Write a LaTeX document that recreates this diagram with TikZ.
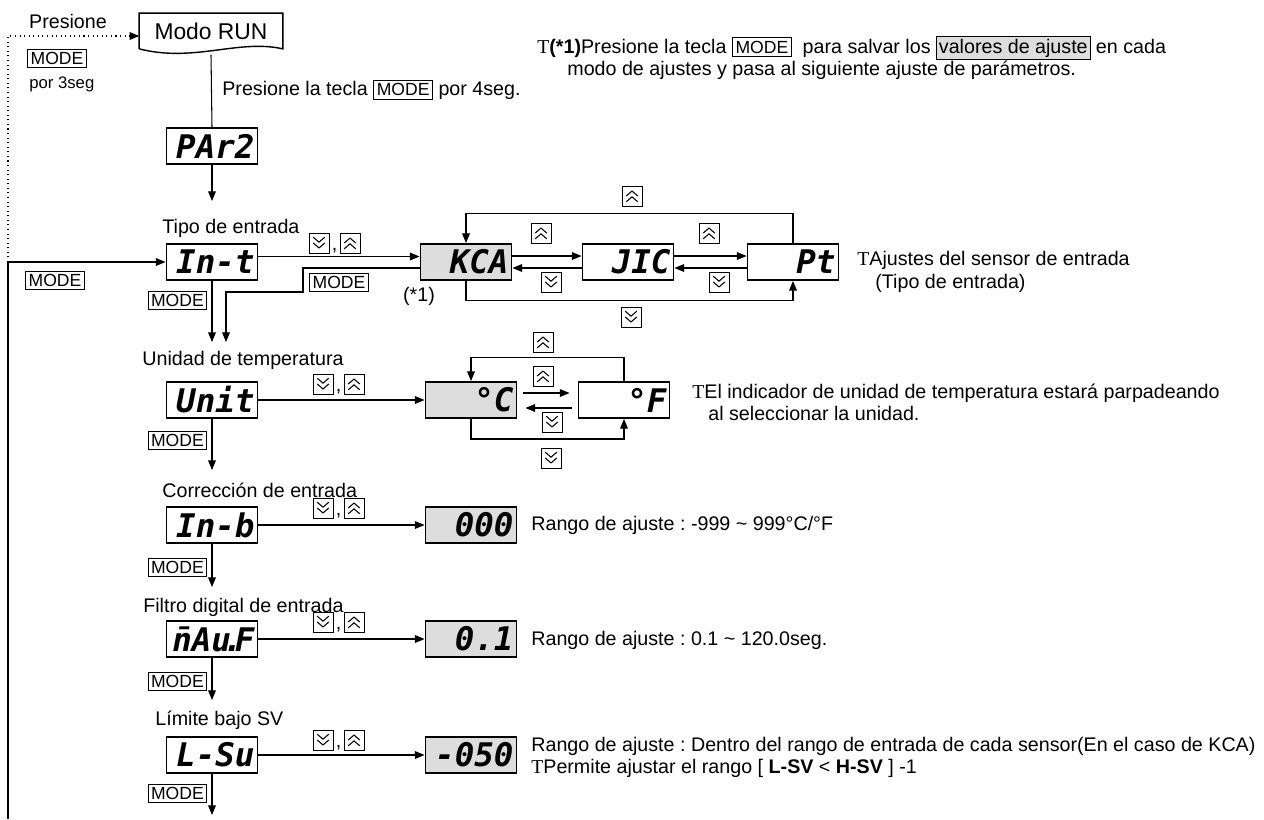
\documentclass[tikz,border=0pt]{standalone}
\usepackage{fontspec}
\setmainfont{Liberation Sans}
\newfontfamily\segfont{DejaVu Sans Mono}
\newfontfamily\tmark{Liberation Serif}
\usetikzlibrary{positioning, arrows.meta}

\frenchspacing
\newcommand{\txt}{\fontsize{11.2}{13.5}\selectfont}
\newcommand{\keyfont}{\fontsize{10}{11}\selectfont}
\newcommand{\seg}{\segfont\bfseries\itshape\fontsize{18.5}{19}\selectfont}
\newcommand{\modekey}{{\setlength{\fboxsep}{1.5pt}\setlength{\fboxrule}{0.5pt}\fbox{\keyfont MODE}}}
\newcommand{\nbar}{\accent"00AF n}
\setlength{\fboxsep}{1.2pt}

\begin{document}
\begin{tikzpicture}[
  x=0.02cm, y=-0.02cm,
  every node/.style={font=\txt},
  disp/.style={draw, line width=1.1pt, minimum width=1.82cm, minimum height=0.72cm,
               inner sep=0pt, text width=1.7cm, align=right, font=\seg},
  dispg/.style={disp, fill=gray!27},
  modebox/.style={draw, line width=0.5pt, inner sep=1.6pt, font=\keyfont},
  lbl/.style={anchor=west, inner sep=0pt},
  arr/.style={-{Triangle[length=5.5pt,width=4.4pt]}, line width=0.6pt},
  upkey/.style={draw, line width=0.5pt, minimum size=0.4cm, inner sep=0pt,
    path picture={
      \draw[line width=0.6pt]
        ([shift={(-3.3pt,-3.3pt)}]path picture bounding box.center) -- ++(3.3pt,2.8pt) -- ++(3.3pt,-2.8pt)
        ([shift={(-3.3pt,0pt)}]path picture bounding box.center) -- ++(3.3pt,2.8pt) -- ++(3.3pt,-2.8pt);
    }},
  dnkey/.style={draw, line width=0.5pt, minimum size=0.4cm, inner sep=0pt,
    path picture={
      \draw[line width=0.6pt]
        ([shift={(-3.3pt,3.3pt)}]path picture bounding box.center) -- ++(3.3pt,-2.8pt) -- ++(3.3pt,2.8pt)
        ([shift={(-3.3pt,0pt)}]path picture bounding box.center) -- ++(3.3pt,-2.8pt) -- ++(3.3pt,2.8pt);
    }},
]
\useasboundingbox (0,0) rectangle (1264,819);

%% ---- Modo RUN and entry ----

\node[minimum width=2.86cm, minimum height=0.7cm, inner sep=0pt,
      font=\fontsize{13}{15}\selectfont] (run) at (211,31) {Modo RUN};
\draw[line width=0.8pt] (run.south west) -- (run.north west) -- (run.north east)
    -- (run.south east) .. controls +(-45,-10) and +(55,14) .. (run.south west);

\node (pres0) at (68,21) {Presione};
\node[modebox] (kmode1) at (57,58) {MODE};
\node[lbl, font=\fontsize{9.5}{10}\selectfont] (por3) at (29,84) {por 3seg};

\node[lbl] (pres1) at (222,90) {Presione la tecla \modekey{} por 4seg.};

\node[disp] (par2) at (212,146) {PAr2};
\draw[line width=0.6pt] ([yshift=-0.12cm]run.south) -- (par2.north);
\coordinate (t0) at (212,201);
\draw[arr] (par2.south) -- (t0);

%% ---- note (*1) ----

\node[lbl] (note1) at (537,48)
    {{\tmark T}\textbf{(*1)}Presione la tecla \modekey\ \ para salvar los
     \fcolorbox{black}{gray!27}{valores de ajuste} en cada};
\node[lbl] (note2) at (567,70)
    {modo de ajustes y pasa al siguiente ajuste de par\'ametros.};

%% ---- Tipo de entrada ----

\node[lbl] (lab1) at (162,228) {Tipo de entrada};
\node[dnkey] (d1) at (319,243) {};
\node[inner sep=0pt, anchor=base] (c1) at (334.5,250) {,};
\node[upkey] (u1) at (350,243) {};

\node[disp] (int) at (212,262) {In-t};
\node[dispg] (kca) at (466,262) {KCA};
\node[disp] (jic) at (628,262) {JIC};
\node[disp] (pt) at (793,262) {Pt};

\draw[arr] ([yshift=0.11cm]int.east) -- ([yshift=0.11cm]kca.west);

\coordinate (t1) at (212,342);
\coordinate (t2) at (226,342);
\coordinate (ret) at (303,292);
\draw[arr] (int.south) -- (t1);
\draw[arr] ([yshift=-0.12cm]kca.west) -| (ret) -| (t2);
\node[modebox, anchor=east] (km1) at (207,300) {MODE};
\node[modebox] (km2) at (339,282) {MODE};
\node (star) at (419,296) {(*1)};

\draw[arr] (pt.north) -- ++(0,-30) -| (kca.north);
\node[upkey] (u2) at (632,196) {};
\draw[arr] ([yshift=0.12cm]kca.east) -- ([yshift=0.12cm]jic.west);
\draw[arr] ([yshift=-0.12cm]jic.west) -- ([yshift=-0.12cm]kca.east);
\node[upkey] (u3) at (541,233) {};
\node[dnkey] (d3) at (551,282) {};
\draw[arr] ([yshift=0.12cm]jic.east) -- ([yshift=0.12cm]pt.west);
\draw[arr] ([yshift=-0.12cm]pt.west) -- ([yshift=-0.12cm]jic.east);
\node[upkey] (u4) at (709,233) {};
\node[dnkey] (d4) at (719,282) {};
\draw[arr] (kca.south) -- ++(0,20) -| (pt.south);
\node[dnkey] (d5) at (631,317) {};

\node[lbl] (note3) at (857,260) {{\tmark T}Ajustes del sensor de entrada};
\node[lbl] (note3b) at (875,283) {(Tipo de entrada)};

%% ---- left return line ----

\coordinate (lc) at (8,262);
\coordinate (lb) at (8,819);
\draw[arr] (lb) -- (lc) -- (int.west);
\draw[arr, dotted, line width=0.8pt] (lc) |- ([yshift=-0.1cm]run.west);
\node[modebox] (kmode0) at (55,280) {MODE};

%% ---- Unidad de temperatura ----

\node[lbl] (lab2) at (142,360) {Unidad de temperatura};
\node[dnkey] (d6) at (323,384) {};
\node[inner sep=0pt, anchor=base] (c6) at (338.5,391) {,};
\node[upkey] (u6) at (354,384) {};

\node[disp] (unit) at (212,400) {Unit};
\node[dispg] (degc) at (471,400) {°C};
\node[disp] (degf) at (624,400) {°F};
\draw[arr] (unit) -- (degc);

\draw[arr] (degf.north) -- ++(0,-24) -| (degc.north);
\node[upkey] (u7) at (543,342) {};
\draw[arr] ([xshift=0.12cm, yshift=0.14cm]degc.east) -- ([xshift=-0.16cm, yshift=0.14cm]degf.west);
\draw[arr] ([xshift=-0.12cm, yshift=-0.16cm]degf.west) -- ([xshift=0.16cm, yshift=-0.16cm]degc.east);
\node[upkey] (u8) at (543,376) {};
\node[dnkey] (d8) at (552,422) {};
\draw[arr] (degc.south) -- ++(0,20) -| (degf.south);
\node[dnkey] (d9) at (551,458) {};

\node[lbl] (note4) at (692,393)
    {{\tmark T}El indicador de unidad de temperatura estar\'a parpadeando};
\node[lbl] (note4b) at (708,413) {al seleccionar la unidad.};

\coordinate (t3) at (212,470);
\draw[arr] (unit.south) -- (t3);
\node[modebox, anchor=east] (km3) at (207,440) {MODE};

%% ---- Correccion de entrada ----

\node[lbl] (lab3) at (162,490) {Correcci\'on de entrada};
\node[dnkey] (d10) at (323,508) {};
\node[inner sep=0pt, anchor=base] (c10) at (338.5,515) {,};
\node[upkey] (u10) at (354,508) {};

\node[disp] (inb) at (212,525) {In-b};
\node[dispg] (z000) at (471,525) {000};
\draw[arr] (inb) -- (z000);
\node[lbl] (note5) at (531,525) {Rango de ajuste : -999 \textasciitilde{} 999°C/°F};

\coordinate (t4) at (212,587);
\draw[arr] (inb.south) -- (t4);
\node[modebox, anchor=east] (km4) at (207,567) {MODE};

%% ---- Filtro digital de entrada ----

\node[lbl] (lab4) at (143,607) {Filtro digital de entrada};
\node[dnkey] (d11) at (323,622) {};
\node[inner sep=0pt, anchor=base] (c11) at (338.5,629) {,};
\node[upkey] (u11) at (354,622) {};

\node[disp] (mavf) at (212,639) {\nbar Au\kern-.24em.\kern-.24em F};
\node[dispg] (z01) at (471,639) {0.1};
\draw[arr] (mavf) -- (z01);
\node[lbl] (note6) at (531,640) {Rango de ajuste : 0.1 \textasciitilde{} 120.0seg.};

\coordinate (t5) at (212,700);
\draw[arr] (mavf.south) -- (t5);
\node[modebox, anchor=east] (km5) at (207,681) {MODE};

%% ---- Limite bajo SV ----

\node[lbl] (lab5) at (155,720) {L\'imite bajo SV};
\node[dnkey] (d12) at (323,740) {};
\node[inner sep=0pt, anchor=base] (c12) at (338.5,747) {,};
\node[upkey] (u12) at (354,740) {};

\node[disp] (lsu) at (212,755) {L-Su};
\node[dispg] (m050) at (471,755) {-050};
\draw[arr] (lsu) -- (m050);
\node[lbl] (note7) at (531,746)
    {Rango de ajuste : Dentro del rango de entrada de cada sensor(En el caso de KCA)};
\node[lbl] (note7b) at (531,768)
    {{\tmark T}Permite ajustar el rango [ \textbf{L-SV} < \textbf{H-SV} ] -1};

\coordinate (t6) at (212,815);
\draw[arr] (lsu.south) -- (t6);
\node[modebox, anchor=east] (km6) at (207,793) {MODE};

\end{tikzpicture}
\end{document}
